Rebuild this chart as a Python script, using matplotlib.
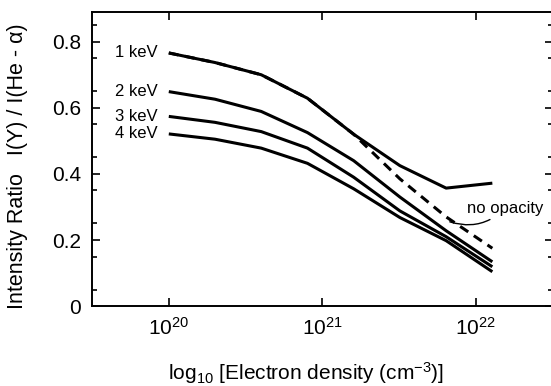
import matplotlib
matplotlib.use('Agg')
import matplotlib.pyplot as plt
import numpy as np

plt.rcParams['font.family'] = ['Liberation Sans', 'DejaVu Sans']
plt.rcParams['mathtext.fontset'] = 'custom'
plt.rcParams['mathtext.rm'] = 'Liberation Sans'
plt.rcParams['mathtext.it'] = 'Liberation Sans'

# electron density (cm^-3), doubling steps from 1e20
density = [1e20, 2e20, 4e20, 8e20, 1.6e21, 3.2e21, 6.4e21, 1.28e22]

ratio_1kev = [0.766, 0.737, 0.700, 0.629, 0.520, 0.425, 0.357, 0.372]
ratio_no_opacity = [0.766, 0.737, 0.700, 0.629, 0.520, 0.385, 0.270, 0.175]
ratio_2kev = [0.649, 0.626, 0.589, 0.525, 0.440, 0.330, 0.228, 0.134]
ratio_3kev = [0.574, 0.556, 0.528, 0.478, 0.390, 0.288, 0.210, 0.119]
ratio_4kev = [0.521, 0.505, 0.478, 0.432, 0.355, 0.268, 0.198, 0.104]

curve_labels = ['1 keV', '2 keV', '3 keV', '4 keV']
yticks = [0, 0.2, 0.4, 0.6, 0.8]
ytick_labels = ['0', '0.2', '0.4', '0.6', '0.8']
xticks = [1e20, 1e21, 1e22]
xtick_labels = [r'$10^{20}$', r'$10^{21}$', r'$10^{22}$']

fig = plt.figure(figsize=(5.51, 3.86), dpi=100)
ax = fig.add_axes([0.167, 0.207, 0.836, 0.762])

ax.plot(density, ratio_no_opacity, color='black', lw=2.2, ls=(0, (3.2, 2.2)))
for vals in [ratio_1kev, ratio_2kev, ratio_3kev, ratio_4kev]:
    ax.plot(density, vals, color='black', lw=2.2, solid_capstyle='butt')

ax.set_xscale('log')
ax.set_xlim(10**19.5, 10**22.5)
ax.set_ylim(0, 0.89)

ax.set_xticks(xticks)
ax.set_xticklabels(xtick_labels, fontsize=15)
ax.xaxis.set_minor_locator(matplotlib.ticker.NullLocator())
ax.set_yticks(yticks)
ax.set_yticklabels(ytick_labels, fontsize=15)
ax.set_yticks(np.arange(0.05, 0.89, 0.1), minor=True)

ax.tick_params(which='both', direction='in', top=True, right=True, width=1.2)
ax.tick_params(which='major', length=6, pad=8)
ax.tick_params(which='minor', length=3.5)
for s in ax.spines.values():
    s.set_linewidth(1.4)

# curve labels at the left end
for lab, vals in zip(curve_labels, [ratio_1kev, ratio_2kev, ratio_3kev, ratio_4kev]):
    ax.text(10**19.93, vals[0], lab, ha='right', va='center', fontsize=12)

ax.annotate('no opacity', xy=(10**21.83, 0.255), xytext=(10**21.94, 0.295),
            fontsize=12, ha='left', va='center',
            arrowprops=dict(arrowstyle='-', color='black', lw=1,
                            connectionstyle='arc3,rad=-0.3', shrinkA=1, shrinkB=0))

ax.set_ylabel(u'Intensity Ratio   I(Y) / I(He - \u03b1)', fontsize=15.5)
ax.yaxis.set_label_coords(-0.14, 0.476)
ax.set_xlabel(r'log$_{10}$ [Electron density (cm$^{-3}$)]', fontsize=15)
ax.xaxis.set_label_coords(0.465, -0.185)
ax.xaxis.label.set_va('top')

fig.savefig('out.png', dpi=100)
plt.close()
